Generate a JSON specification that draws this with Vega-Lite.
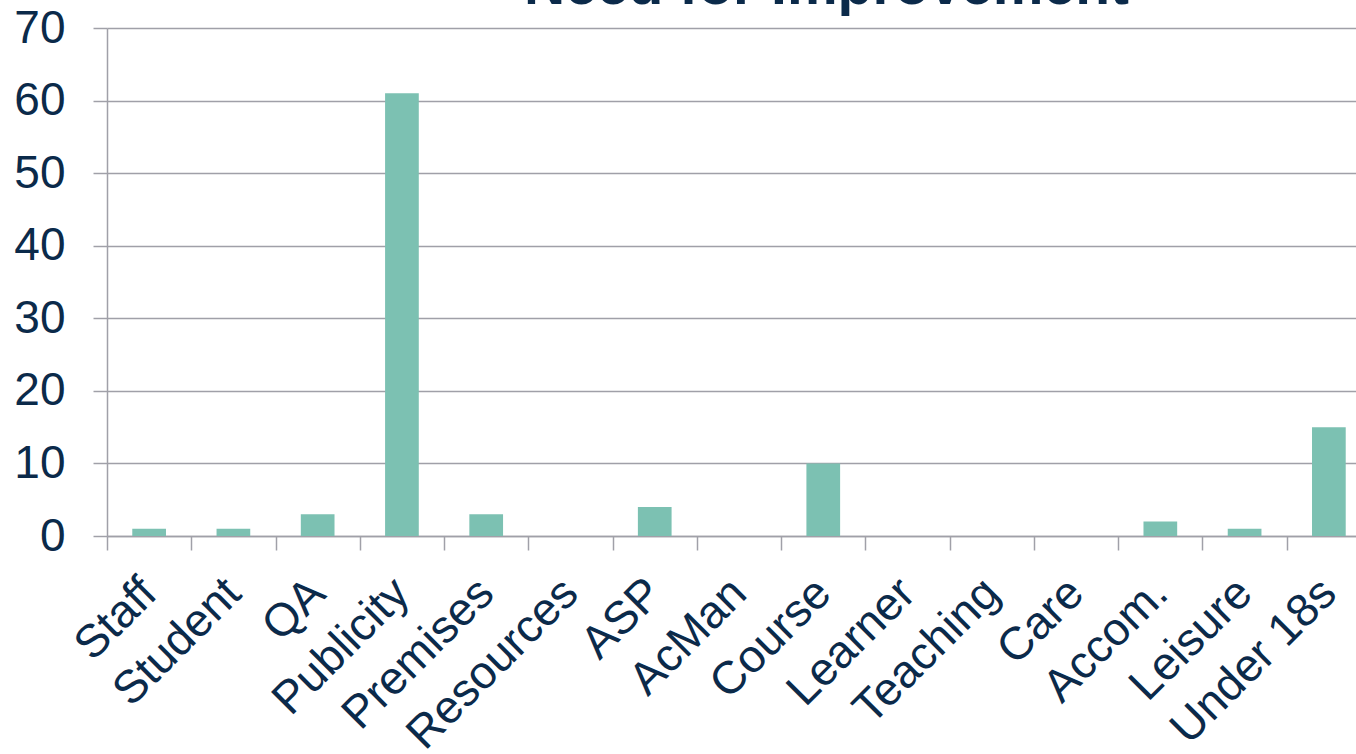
{
  "$schema": "https://vega.github.io/schema/vega-lite/v6.json",
  "width": 1249,
  "height": 508,
  "autosize": "none",
  "padding": {"left": 107, "top": 28, "right": 0, "bottom": 218},
  "background": "white",
  "title": {
    "text": "Need for Improvement",
    "font": "Liberation Sans",
    "fontSize": 57,
    "fontWeight": "bold",
    "color": "#0b2a4a",
    "anchor": "middle",
    "frame": "group",
    "baseline": "alphabetic",
    "dx": 95,
    "dy": 56,
    "offset": 0
  },
  "data": {
    "values": [
      {"category": "Staff", "count": 1},
      {"category": "Student", "count": 1},
      {"category": "QA", "count": 3},
      {"category": "Publicity", "count": 61},
      {"category": "Premises", "count": 3},
      {"category": "Resources", "count": 0},
      {"category": "ASP", "count": 4},
      {"category": "AcMan", "count": 0},
      {"category": "Course", "count": 10},
      {"category": "Learner", "count": 0},
      {"category": "Teaching", "count": 0},
      {"category": "Care", "count": 0},
      {"category": "Accom.", "count": 2},
      {"category": "Leisure", "count": 1},
      {"category": "Under 18s", "count": 15}
    ]
  },
  "mark": {"type": "bar", "color": "#7cc1b2", "width": {"band": 0.4}},
  "encoding": {
    "x": {
      "field": "category",
      "type": "nominal",
      "sort": null,
      "scale": {"range": [0, 1264], "paddingInner": 0, "paddingOuter": 0},
      "axis": {
        "title": null,
        "labelAngle": -45,
        "labelFont": "Liberation Sans",
        "labelFontSize": 46,
        "labelColor": "#0b2a4a",
        "labelPadding": 20,
        "labelOffset": -16,
        "labelLimit": 0,
        "tickBand": "extent",
        "tickSize": 14,
        "tickColor": "#a0a0a8",
        "tickWidth": 1.5,
        "domainColor": "#a0a0a8",
        "domainWidth": 1.5,
        "grid": false,
        "labelOverlap": false
      }
    },
    "y": {
      "field": "count",
      "type": "quantitative",
      "scale": {"domain": [0, 70], "nice": false},
      "axis": {
        "title": null,
        "values": [0, 10, 20, 30, 40, 50, 60, 70],
        "labelFont": "Liberation Sans",
        "labelFontSize": 46,
        "labelColor": "#0b2a4a",
        "labelPadding": 28,
        "tickSize": 14,
        "tickColor": "#a0a0a8",
        "tickWidth": 1.5,
        "domainColor": "#a0a0a8",
        "domainWidth": 1.5,
        "grid": true,
        "gridColor": "#a0a0a8",
        "gridWidth": 1.5
      }
    }
  },
  "config": {"view": {"stroke": null}}
}
